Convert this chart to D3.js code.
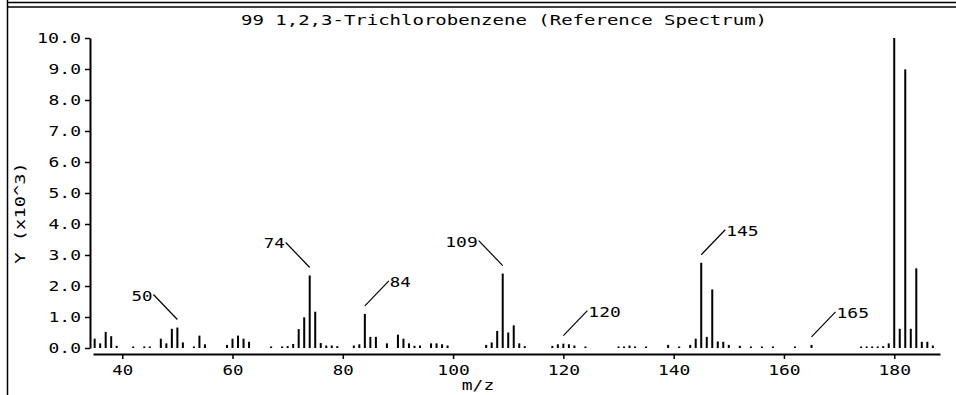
<!DOCTYPE html>
<html>
<head>
<meta charset="utf-8">
<script src="https://cdn.jsdelivr.net/npm/d3@7"></script>
<style>
  html, body { margin: 0; padding: 0; background: #fff; }
  svg { display: block; }
  text { font-family: "DejaVu Sans Mono", "Liberation Mono", monospace; fill: #000; }
</style>
</head>
<body>
<svg id="chart" width="956" height="395"></svg>
<script>
// ---- data ----
const titleText = "99 1,2,3-Trichlorobenzene (Reference Spectrum)";
const xAxisTitle = "m/z";
const yAxisTitle = "Y (x10^3)";
const mz = [35,36,37,38,39,42,44,45,47,48,49,50,51,53,54,55,59,60,61,62,63,67,69,70,71,72,73,74,75,76,77,78,79,82,83,84,85,86,88,90,91,92,93,94,96,97,98,99,106,107,108,109,110,111,112,113,118,119,120,121,122,124,130,131,132,133,135,139,141,143,144,145,146,147,148,149,150,152,154,156,158,162,165,174,175,176,177,178,179,180,181,182,183,184,185,186,187];
const intensity = [0.30,0.15,0.52,0.38,0.07,0.05,0.05,0.05,0.30,0.15,0.62,0.66,0.18,0.05,0.40,0.12,0.10,0.30,0.40,0.30,0.20,0.05,0.05,0.06,0.13,0.61,0.99,2.34,1.17,0.16,0.08,0.08,0.06,0.08,0.12,1.10,0.36,0.36,0.15,0.43,0.30,0.15,0.07,0.08,0.15,0.15,0.12,0.08,0.10,0.18,0.55,2.40,0.50,0.73,0.15,0.06,0.07,0.12,0.14,0.12,0.08,0.05,0.05,0.05,0.08,0.05,0.05,0.10,0.05,0.10,0.30,2.75,0.36,1.89,0.21,0.20,0.10,0.07,0.05,0.05,0.05,0.05,0.10,0.05,0.05,0.05,0.05,0.06,0.15,10.0,0.62,8.99,0.62,2.57,0.20,0.20,0.08];
const xTicks = [40,60,80,100,120,140,160,180];
const yTicks = [0,1,2,3,4,5,6,7,8,9,10];
const peakLabels = [50,74,84,109,120,145,165];
const peakSide = ["left","left","right","left","right","right","right"];

// ---- layout ----
const CW = 11.48;          // monospace cell width of the original bitmap font
const FS = 14;
const svg = d3.select("#chart");
const x = d3.scaleLinear().domain([34.7, 188.3]).range([93, 940]);
const y = d3.scaleLinear().domain([0, 10]).range([348, 38]);

function fit(sel) {
  sel.each(function() {
    const t = d3.select(this);
    const s = t.text();
    t.attr("textLength", s.length * CW - 2).attr("lengthAdjust", "spacingAndGlyphs");
  });
}

// frame
const frame = svg.append("g").attr("stroke", "#000").attr("stroke-width", 1.5).attr("fill", "none");
frame.append("line").attr("x1", 7).attr("x2", 956).attr("y1", 2.5).attr("y2", 2.5);
frame.append("line").attr("x1", 7).attr("x2", 956).attr("y1", 7).attr("y2", 7);
frame.append("line").attr("x1", 7.5).attr("x2", 7.5).attr("y1", 0).attr("y2", 395);

// title
svg.append("text").attr("x", 504).attr("y", 25).attr("text-anchor", "middle")
  .attr("font-size", FS).text(titleText).call(fit);

// bars
const data = mz.map((m, i) => ({ m, v: intensity[i] }));
svg.append("g").selectAll("rect").data(data).join("rect")
  .attr("x", d => x(d.m) - 1)
  .attr("width", 2)
  .attr("y", d => y(d.v))
  .attr("height", d => Math.max(1.5, y(0) - y(d.v)))
  .attr("fill", "#000");

// y axis
const gy = svg.append("g").attr("transform", "translate(90,0)")
  .call(d3.axisLeft(y).tickValues(yTicks).tickFormat(d3.format(".1f")).tickSize(5).tickSizeOuter(0).tickPadding(4));
gy.attr("font-family", null).attr("font-size", null);
gy.select(".domain").attr("stroke-width", 2);
gy.selectAll(".tick line").attr("stroke-width", 1.5);
gy.selectAll(".tick text").attr("font-size", FS).call(fit);

// x axis
const gx = svg.append("g").attr("transform", "translate(0,354)")
  .call(d3.axisBottom(x).tickValues(xTicks).tickFormat(d3.format("d")).tickSize(5).tickSizeOuter(0).tickPadding(6));
gx.attr("font-family", null).attr("font-size", null);
gx.select(".domain").attr("stroke-width", 2);
gx.selectAll(".tick line").attr("stroke-width", 1.5);
gx.selectAll(".tick text").attr("font-size", FS).call(fit);

// axis titles
svg.append("text").attr("x", 478).attr("y", 390).attr("text-anchor", "middle")
  .attr("font-size", FS).text(xAxisTitle).call(fit);
svg.append("text").attr("transform", "translate(25,213) rotate(-90)").attr("text-anchor", "middle")
  .attr("font-size", FS).text(yAxisTitle).call(fit);

// peak callouts
const gl = svg.append("g");
peakLabels.forEach((p, i) => {
  const d = data.find(e => e.m === p);
  const bx = x(p), by = y(d.v) - 8;
  const dir = peakSide[i] === "left" ? -1 : 1;
  const ex = bx + dir * 24, ey = by - 25;
  gl.append("line").attr("x1", bx).attr("y1", by).attr("x2", ex).attr("y2", ey)
    .attr("stroke", "#000").attr("stroke-width", 1.2);
  gl.append("text").attr("x", ex + dir * 1).attr("y", ey + 1)
    .attr("dominant-baseline", "central")
    .attr("text-anchor", dir < 0 ? "end" : "start")
    .attr("font-size", FS).text(String(p)).call(fit);
});
</script>
</body>
</html>
